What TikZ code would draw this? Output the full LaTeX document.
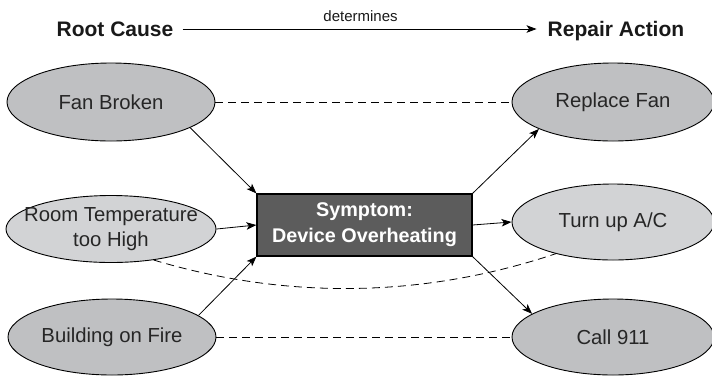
\documentclass[tikz,border=0pt]{standalone}
\usepackage{fontspec}
\setmainfont{Liberation Sans}
\usetikzlibrary{arrows.meta,shapes.geometric}
\definecolor{ellA}{HTML}{BFC0C2}
\definecolor{ellB}{HTML}{D2D3D5}
\definecolor{boxfill}{HTML}{5C5C5C}
\begin{document}
\begin{tikzpicture}[x=1pt,y=-1pt,
  ell/.style={ellipse, draw=black, line width=0.9pt, inner sep=0pt, fill=ellA},
  ellmid/.style={ell, fill=ellB},
  lbl/.style={font=\fontsize{20.3}{25}\selectfont, align=center, inner sep=0pt, text=black!85},
  symbox/.style={draw=black, line width=1.2pt, fill=boxfill, minimum width=215pt, minimum height=62pt, text=white, font=\bfseries\fontsize{19.8}{26}\selectfont, align=center, inner sep=0pt},
  hdr/.style={font=\bfseries\fontsize{21}{25}\selectfont, inner sep=0pt, text=black!90},
  arr/.style={-{Stealth[length=10pt,width=7.5pt,inset=2.5pt]}, line width=0.8pt},
  link/.style={dash pattern=on 8pt off 5pt, line width=0.8pt},
]
\useasboundingbox (0,0) rectangle (712,376);

% header
\node[hdr] (rc) at (115,29) {Root Cause};
\node[hdr, anchor=base] (ra) at (616,36.5) {Repair Action};
\draw[arr, shorten <=9pt, shorten >=11pt] (rc.east) -- (rc.east -| ra.west)
  node[midway, above=4pt, font=\fontsize{15}{18}\selectfont, text=black!90] (det) {determines};

% left ellipses
\node[ell, minimum width=208pt, minimum height=78pt,
      label={[lbl, name=fant]center:Fan Broken}] (fan) at (111,102) {};
\node[ellmid, minimum width=210pt, minimum height=67pt,
      label={[lbl, name=roomt]center:{Room Temperature\\too High}}] (room) at (111,229) {};
\node[ell, minimum width=208pt, minimum height=76pt,
      label={[lbl, name=bldt]center:Building on Fire}] (bld) at (112,337) {};

% right ellipses
\node[ell, minimum width=202pt, minimum height=78pt,
      label={[lbl, name=rept]center:Replace Fan}] (rep) at (613,102) {};
\node[ellmid, minimum width=202pt, minimum height=76pt,
      label={[lbl, name=act]center:Turn up A/C}] (ac) at (613,222) {};
\node[ell, minimum width=202pt, minimum height=76pt,
      label={[lbl, name=callt]center:Call 911}] (call) at (613,337) {};

% symptom box
\node[symbox] (box) at (364.5,225) {Symptom:\\Device Overheating};

% dashed links
\draw[link] (fan.east) -- (rep.west);
\draw[link] (bld.east) -- (call.west);
\coordinate (cc1) at (284,299);
\coordinate (cc2) at (420,299);
\draw[link] (room.-36) .. controls (cc1) and (cc2) .. (ac.209);

% arrows
\draw[arr] (fan.-18) -- (box.north west);
\draw[arr] (room.east) -- (box.west);
\draw[arr] (bld.14) -- (box.south west);
\draw[arr] (box.north east) -- (rep.200);
\draw[arr] (box.east) -- (ac.west);
\draw[arr] (box.south east) -- (call.164);
\end{tikzpicture}
\end{document}
